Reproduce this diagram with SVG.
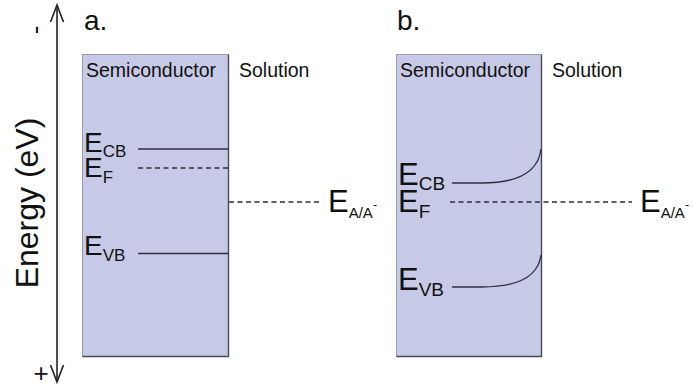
<svg xmlns="http://www.w3.org/2000/svg" width="693" height="387" viewBox="0 0 693 387">
  <style>
    text { font-family: "Liberation Sans", Arial, sans-serif; fill: #111; }
    .panel { fill: #c7cae6; stroke: #9a9ab0; stroke-width: 1; }
    .edge { stroke: #4a4a5a; stroke-width: 1.4; fill: none; }
    .band { stroke: #2e2e40; stroke-width: 1.3; fill: none; }
    .dash { stroke: #2e2e40; stroke-width: 1.3; fill: none; stroke-dasharray: 5 3.5; }
    .axis { stroke: #222; stroke-width: 1.6; fill: none; }
    .lbl { font-size: 19.5px; }
    .ea { font-size: 28px; }
    .eb { font-size: 31px; }
    .sa { font-size: 17px; }
    .sb { font-size: 19px; }
    .sr { font-size: 15px; }
    .sup { font-size: 12px; }
  </style>

  <!-- energy axis -->
  <g id="axis">
    <line class="axis" x1="57" y1="6" x2="57" y2="381"/>
    <path class="axis" d="M50.5,22 L57,5 L63.5,22"/>
    <path class="axis" d="M50.5,365 L57,382 L63.5,365"/>
    <text x="0" y="0" font-size="32" text-anchor="middle" transform="translate(38,203) rotate(-90)">Energy (eV)</text>
    <text x="0" y="0" font-size="26" text-anchor="middle" transform="translate(44,30) rotate(-90)">-</text>
    <text x="41" y="382" font-size="26" text-anchor="middle">+</text>
  </g>

  <!-- panel a: flat bands -->
  <g id="panel-a">
    <text x="84" y="30" font-size="28">a.</text>
    <rect class="panel" x="82.5" y="54.5" width="146" height="302"/>
    <polyline class="edge" points="228.5,54.5 228.5,356.5 82.5,356.5"/>
    <text class="lbl" x="86" y="77">Semiconductor</text>
    <text class="lbl" x="239" y="77">Solution</text>
  </g>
  <g id="a-ecb">
    <text class="ea" x="84" y="152">E<tspan class="sa" dy="5">CB</tspan></text>
  </g>
  <g id="a-ef">
    <text class="ea" x="84" y="177">E<tspan class="sa" dy="6">F</tspan></text>
  </g>
  <g id="a-evb">
    <text class="ea" x="84" y="255">E<tspan class="sa" dy="6">VB</tspan></text>
  </g>
  <g id="a-eredox">
    <text class="eb" x="328" y="212">E<tspan class="sr" dy="6">A/A</tspan><tspan class="sup" dy="-9">-</tspan></text>
  </g>

  <!-- panel b: bent bands -->
  <g id="panel-b">
    <text x="397" y="30" font-size="28">b.</text>
    <rect class="panel" x="396.5" y="54.5" width="145" height="302"/>
    <polyline class="edge" points="541.5,54.5 541.5,356.5 396.5,356.5"/>
    <text class="lbl" x="400" y="77">Semiconductor</text>
    <text class="lbl" x="552" y="77">Solution</text>
  </g>
  <g id="b-ecb">
    <text class="eb" x="398" y="185">E<tspan class="sb" dy="5">CB</tspan></text>
  </g>
  <g id="b-ef">
    <text class="eb" x="398" y="212">E<tspan class="sb" dy="6">F</tspan></text>
  </g>
  <g id="b-evb">
    <text class="eb" x="398" y="290">E<tspan class="sb" dy="6">VB</tspan></text>
  </g>
  <g id="b-eredox">
    <text class="eb" x="640" y="212">E<tspan class="sr" dy="6">A/A</tspan><tspan class="sup" dy="-9">-</tspan></text>
  </g>

  <!-- band levels -->
  <g id="connectors">
    <line class="band" x1="138" y1="149" x2="228" y2="149"/>
    <line class="dash" x1="138" y1="168" x2="228" y2="168"/>
    <line class="band" x1="138" y1="253.5" x2="228" y2="253.5"/>
    <line class="dash" x1="229" y1="202" x2="320" y2="202"/>
    <path class="band" d="M452,183 L482,183 C515,183 538,174 541,149"/>
    <path class="band" d="M452,287 L482,287 C515,287 538,278 541,255"/>
    <line class="dash" x1="450" y1="202" x2="632" y2="202"/>
  </g>
</svg>
